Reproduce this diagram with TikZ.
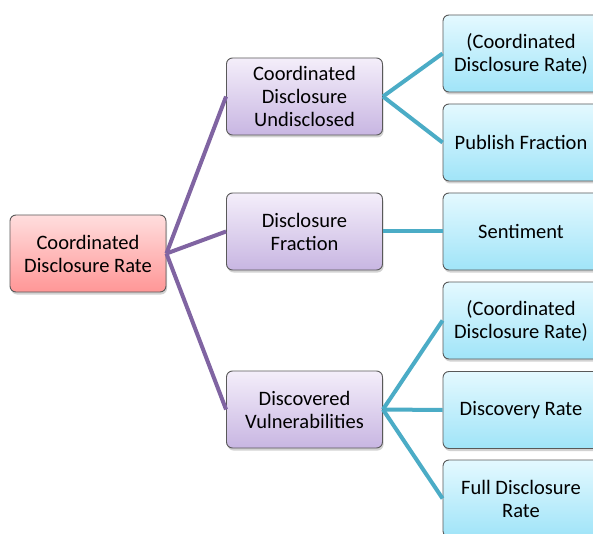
\documentclass[tikz,border=0pt]{standalone}
\usepackage{fontspec}
\setmainfont{Carlito}
\usepackage{xcolor}
\usepackage{tikz}
\usetikzlibrary{shadows}

\definecolor{rootlight}{RGB}{255, 222, 222}
\definecolor{rootdark}{RGB}{255, 150, 150}
\definecolor{midlight}{RGB}{244, 238, 250}
\definecolor{middark}{RGB}{200, 182, 226}
\definecolor{leaflight}{RGB}{228, 249, 255}
\definecolor{leafdark}{RGB}{160, 228, 248}
\definecolor{treepurple}{RGB}{128, 100, 162}
\definecolor{treeteal}{RGB}{75, 172, 198}

\begin{document}
\begin{tikzpicture}[x=1pt, y=-1pt,
  font=\fontsize{20.5}{23}\selectfont,
  box/.style={draw=black!65, line width=0.9pt, rounded corners=6pt,
    minimum width=156pt, minimum height=77pt, align=center, inner sep=2pt,
    drop shadow={shadow xshift=1pt, shadow yshift=-2.5pt, opacity=0.35}},
  rootbox/.style={box, top color=rootlight, bottom color=rootdark},
  midbox/.style={box, top color=midlight, bottom color=middark},
  leafbox/.style={box, top color=leaflight, bottom color=leafdark},
  purpleline/.style={treepurple, line width=4pt},
  tealline/.style={treeteal, line width=4pt}]
  \clip (0,0) rectangle (593,534);
  \fill[white] (0,0) rectangle (593,534);

  % root
  \node[rootbox] (rate) at (88,253.5) {Coordinated\\Disclosure Rate};

  % middle level
  \node[midbox] (undisc) at (304.5,96.5) {Coordinated\\Disclosure\\Undisclosed};
  \node[midbox] (frac) at (304.5,231.5) {Disclosure\\Fraction};
  \node[midbox] (vulns) at (304.5,409.5) {Discovered\\Vulnerabilities};

  % leaves
  \node[leafbox] (rateA) at (521,53.5) {(Coordinated\\Disclosure Rate)};
  \node[leafbox] (publish) at (521,142.5) {Publish Fraction};
  \node[leafbox] (sent) at (521,231.5) {Sentiment};
  \node[leafbox] (rateB) at (521,320.5) {(Coordinated\\Disclosure Rate)};
  \node[leafbox] (discov) at (521,410) {Discovery Rate};
  \node[leafbox] (full) at (521,498.5) {Full Disclosure\\Rate};

  % connectors
  \foreach \m in {undisc, frac, vulns}
    \draw[purpleline] (rate.east) -- (\m.west);
  \foreach \l in {rateA, publish}
    \draw[tealline] (undisc.east) -- (\l.west);
  \draw[tealline] (frac.east) -- (sent.west);
  \foreach \l in {rateB, discov, full}
    \draw[tealline] (vulns.east) -- (\l.west);
\end{tikzpicture}
\end{document}
